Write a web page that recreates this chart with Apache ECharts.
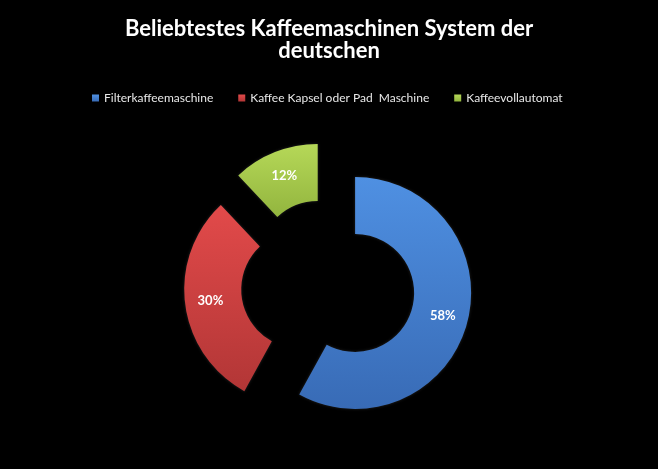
<!DOCTYPE html>
<html>
<head>
<meta charset="utf-8">
<script src="https://cdn.jsdelivr.net/npm/echarts@6/dist/echarts.min.js"></script>
<style>
html,body{margin:0;padding:0;background:#000;}
#main{width:658px;height:469px;}
</style>
</head>
<body>
<div id="main"></div>
<script>
var categories = ['Filterkaffeemaschine', 'Kaffee Kapsel oder Pad  Maschine', 'Kaffeevollautomat'];
var values = [58, 30, 12];
var titleText = 'Beliebtestes Kaffeemaschinen System der\ndeutschen';
var colorsTop = ['#4f90e2', '#e24a4a', '#b6d858'];
var colorsBottom = ['#386bb6', '#b23636', '#92b53e'];

function grad(i) {
  return new echarts.graphic.LinearGradient(0, 0, 0, 1, [
    {offset: 0, color: colorsTop[i]},
    {offset: 1, color: colorsBottom[i]}
  ]);
}

var data = categories.map(function (name, i) {
  return {
    name: name,
    value: values[i],
    selected: true,
    itemStyle: {color: grad(i)},
    select: {itemStyle: {color: grad(i)}}
  };
});

var chart = echarts.init(document.getElementById('main'), null, {renderer: 'canvas'});
chart.setOption({
  backgroundColor: '#000',
  animation: false,
  color: ['#4a86d8', '#d84040', '#a8cc48'],
  title: {
    text: titleText,
    left: 'center',
    top: 13,
    textStyle: {
      color: '#fff',
      fontFamily: 'Lato',
      fontWeight: 'bold',
      fontSize: 22,
      lineHeight: 22
    }
  },
  legend: {
    top: 87,
    left: 87,
    icon: 'rect',
    itemWidth: 7,
    itemHeight: 7,
    itemGap: 25,
    selectedMode: false,
    textStyle: {color: '#e8e8e8', fontFamily: 'Lato', fontSize: 12},
    data: categories.map(function (c, i) {
      return {name: c, itemStyle: {color: grad(i)}};
    })
  },
  series: [{
    type: 'pie',
    center: [328, 286],
    radius: [59, 116],
    startAngle: 90,
    clockwise: true,
    selectedMode: 'multiple',
    selectedOffset: 28,
    avoidLabelOverlap: false,
    label: {
      show: true,
      position: 'inside',
      formatter: '{c}%',
      color: '#fff',
      fontFamily: 'Lato',
      fontWeight: 'bold',
      fontSize: 13
    },
    labelLine: {show: false},
    emphasis: {disabled: true},
    itemStyle: {
      borderWidth: 0,
      shadowBlur: 3,
      shadowColor: 'rgba(255,255,255,0.15)'
    },
    data: data
  }]
});
</script>
</body>
</html>
